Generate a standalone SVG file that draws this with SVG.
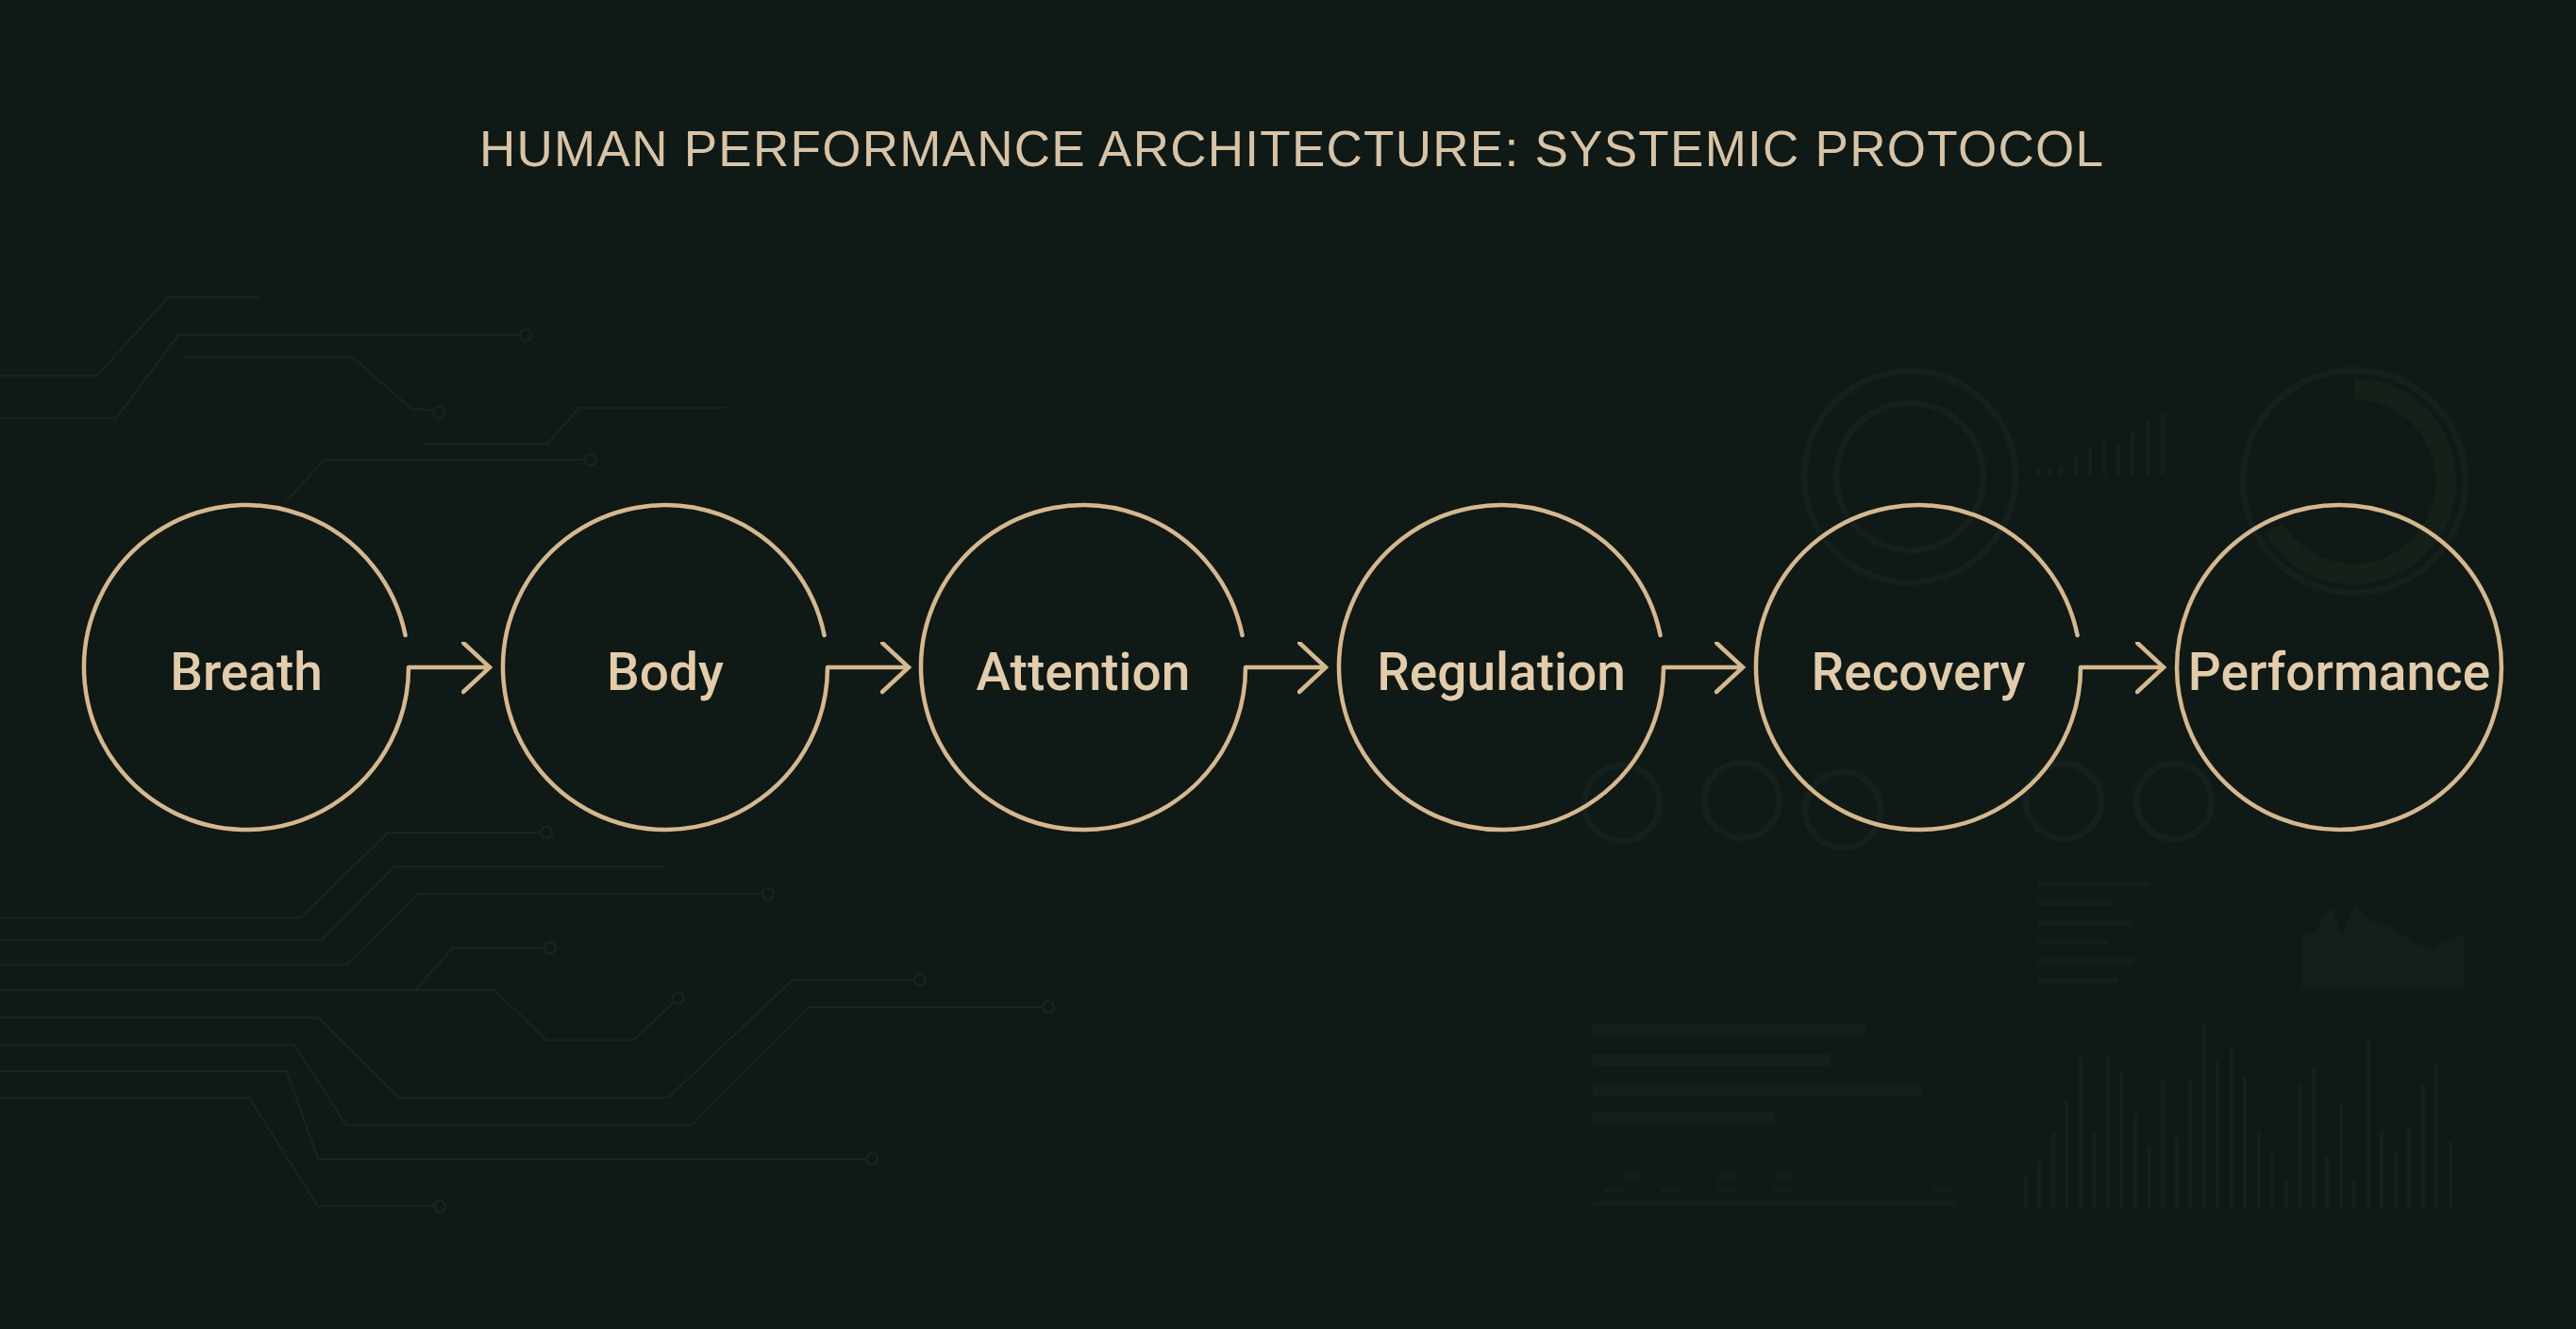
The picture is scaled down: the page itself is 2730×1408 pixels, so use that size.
<svg xmlns="http://www.w3.org/2000/svg" width="2730" height="1408" viewBox="0 0 2730 1408">
<defs>
<style>
.bg{fill:#0f1916}
.trace{fill:none;stroke:#18221e;stroke-width:2.5}
.tnode{fill:none;stroke:#19231f;stroke-width:2.5}
.ring{fill:none;stroke:#151f1b;stroke-width:7}
.dash{fill:#141e1a}
.vbar{stroke:#151f1b;stroke-width:4}
.node{fill:none;stroke:#d6b88c;stroke-width:4.5;stroke-linecap:round}
.label{font-family:Roboto,"Liberation Sans",Arial,sans-serif;font-weight:500;font-size:55px;fill:#e3cca9;text-anchor:middle}
.title{font-family:"Liberation Sans",Arial,sans-serif;font-size:53px;fill:#d8c4a5}
.conn{fill:none;stroke:#d6b88c;stroke-width:4.5}
</style>
<marker id="arrow" markerUnits="userSpaceOnUse" markerWidth="40" markerHeight="60" refX="30" refY="27" orient="auto" viewBox="0 0 40 60">
<path d="M2,1 L30,27 L2,53" fill="none" stroke="#d6b88c" stroke-width="4.5" stroke-linecap="round" stroke-linejoin="miter"/>
</marker>
</defs>
<rect class="bg" x="0" y="0" width="2730" height="1408"/>

<g id="background-left">
<path class="trace" d="M0,398 L103,398 L178,315 L276,315"/>
<path class="trace" d="M0,443 L123,443 L189,355 L551,355"/>
<circle class="tnode" cx="557" cy="355" r="6"/>
<path class="trace" d="M195,378 L373,378 L436,433 L459,435"/>
<circle class="tnode" cx="465" cy="437" r="6"/>
<path class="trace" d="M448,470 L580,470 L614,432 L769,432"/>
<path class="trace" d="M304,530 L344,487 L620,487"/>
<circle class="tnode" cx="626" cy="487" r="6"/>
<path class="trace" d="M0,972 L319,972 L411,882 L573,882"/>
<circle class="tnode" cx="579" cy="882" r="6"/>
<path class="trace" d="M0,996 L341,996 L418,918 L704,918"/>
<path class="trace" d="M0,1022 L367,1022 L444,947 L808,947"/>
<circle class="tnode" cx="814" cy="947" r="6"/>
<path class="trace" d="M0,1049 L524,1049 L579,1102 L671,1102 L715,1061"/>
<circle class="tnode" cx="719" cy="1057" r="6"/>
<path class="trace" d="M440,1049 L480,1004 L577,1004"/>
<circle class="tnode" cx="583" cy="1004" r="6"/>
<path class="trace" d="M0,1078 L337,1078 L422,1163 L708,1163 L840,1038 L969,1038"/>
<circle class="tnode" cx="975" cy="1038" r="6"/>
<path class="trace" d="M0,1107 L312,1107 L367,1192 L733,1192 L858,1067 L1105,1067"/>
<circle class="tnode" cx="1111" cy="1067" r="6"/>
<path class="trace" d="M0,1135 L304,1135 L337,1228 L918,1228"/>
<circle class="tnode" cx="924" cy="1228" r="6"/>
<path class="trace" d="M0,1163 L264,1163 L337,1278 L460,1278"/>
<circle class="tnode" cx="466" cy="1278" r="6"/>
</g>

<g id="background-right">
<circle class="ring" cx="2024" cy="505" r="112" stroke-width="5"/>
<circle class="ring" cx="2024" cy="505" r="78" stroke-width="5"/>
<circle class="ring" cx="2495" cy="510" r="118" stroke-width="5"/>
<path d="M2495,412 A98,98 0 1 1 2410,560" fill="none" stroke="#152019" stroke-width="22"/>
<g class="vbar">
<line x1="2160" y1="503" x2="2160" y2="497"/><line x1="2172" y1="503" x2="2172" y2="497"/><line x1="2184" y1="503" x2="2184" y2="494"/>
<line x1="2200" y1="503" x2="2200" y2="482"/><line x1="2215" y1="503" x2="2215" y2="474"/><line x1="2230" y1="503" x2="2230" y2="466"/>
<line x1="2245" y1="503" x2="2245" y2="470"/><line x1="2260" y1="503" x2="2260" y2="458"/><line x1="2276" y1="503" x2="2276" y2="446"/>
<line x1="2292" y1="503" x2="2292" y2="437"/>
</g>
<g class="ring" stroke-width="5">
<circle cx="1719" cy="851" r="40"/><circle cx="1846" cy="848" r="40"/><circle cx="1953" cy="858" r="40"/>
<circle cx="2187" cy="849" r="40"/><circle cx="2304" cy="849" r="40"/>
</g>
<g class="dash">
<rect x="2160" y="934" width="117" height="6"/><rect x="2160" y="954" width="80" height="6"/><rect x="2160" y="975" width="100" height="6"/>
<rect x="2160" y="995" width="74" height="6"/><rect x="2160" y="1015" width="101" height="6"/><rect x="2160" y="1036" width="84" height="6"/>
<rect x="1688" y="1085" width="289" height="13"/><rect x="1688" y="1117" width="251" height="13"/>
<rect x="1688" y="1148" width="348" height="13"/><rect x="1688" y="1178" width="193" height="13"/>
<path d="M2439,1047 L2439,995 L2455,985 L2470,960 L2482,990 L2496,958 L2512,975 L2528,980 L2545,990 L2560,1000 L2575,1005 L2590,998 L2611,990 L2611,1047 Z"/>
<rect x="1688" y="1272" width="385" height="6"/><rect x="1700" y="1258" width="20" height="6"/><rect x="1760" y="1258" width="20" height="6"/>
<rect x="1820" y="1258" width="20" height="6"/><rect x="1880" y="1258" width="20" height="6"/><rect x="2050" y="1258" width="20" height="6"/>
<rect x="1720" y="1243" width="20" height="6"/><rect x="1820" y="1243" width="20" height="6"/><rect x="1880" y="1243" width="20" height="6"/>
</g>
<g class="vbar">
<line x1="2147" y1="1280" x2="2147" y2="1245"/><line x1="2161" y1="1280" x2="2161" y2="1230"/><line x1="2176" y1="1280" x2="2176" y2="1200"/>
<line x1="2190" y1="1280" x2="2190" y2="1165"/><line x1="2205" y1="1280" x2="2205" y2="1120"/><line x1="2219" y1="1280" x2="2219" y2="1200"/>
<line x1="2234" y1="1280" x2="2234" y2="1118"/><line x1="2248" y1="1280" x2="2248" y2="1135"/><line x1="2263" y1="1280" x2="2263" y2="1180"/>
<line x1="2278" y1="1280" x2="2278" y2="1215"/><line x1="2292" y1="1280" x2="2292" y2="1145"/><line x1="2307" y1="1280" x2="2307" y2="1205"/>
<line x1="2321" y1="1280" x2="2321" y2="1145"/><line x1="2336" y1="1280" x2="2336" y2="1085"/><line x1="2350" y1="1280" x2="2350" y2="1125"/>
<line x1="2365" y1="1280" x2="2365" y2="1110"/><line x1="2379" y1="1280" x2="2379" y2="1140"/><line x1="2394" y1="1280" x2="2394" y2="1200"/>
<line x1="2408" y1="1280" x2="2408" y2="1225"/><line x1="2423" y1="1280" x2="2423" y2="1252"/><line x1="2437" y1="1280" x2="2437" y2="1150"/>
<line x1="2452" y1="1280" x2="2452" y2="1130"/><line x1="2466" y1="1280" x2="2466" y2="1225"/><line x1="2481" y1="1280" x2="2481" y2="1170"/>
<line x1="2495" y1="1280" x2="2495" y2="1250"/><line x1="2510" y1="1280" x2="2510" y2="1100"/><line x1="2524" y1="1280" x2="2524" y2="1198"/>
<line x1="2539" y1="1280" x2="2539" y2="1220"/><line x1="2553" y1="1280" x2="2553" y2="1195"/><line x1="2568" y1="1280" x2="2568" y2="1150"/>
<line x1="2582" y1="1280" x2="2582" y2="1128"/><line x1="2597" y1="1280" x2="2597" y2="1210"/>
</g>
</g>

<text class="title" x="508" y="176" textLength="1721" lengthAdjust="spacing">HUMAN PERFORMANCE ARCHITECTURE: SYSTEMIC PROTOCOL</text>

<g id="connectors">
<line class="conn" x1="433" y1="707" x2="519" y2="707" marker-end="url(#arrow)"/>
<line class="conn" x1="877" y1="707" x2="963" y2="707" marker-end="url(#arrow)"/>
<line class="conn" x1="1320" y1="707" x2="1405" y2="707" marker-end="url(#arrow)"/>
<line class="conn" x1="1763" y1="707" x2="1847" y2="707" marker-end="url(#arrow)"/>
<line class="conn" x1="2205" y1="707" x2="2293" y2="707" marker-end="url(#arrow)"/>
</g>

<g id="node-breath">
<path class="node" d="M433,707 A172,172 0 1 1 429.6,673"/>
<text class="label" x="261" y="731">Breath</text>
</g>
<g id="node-body">
<path class="node" d="M877,707 A172,172 0 1 1 873.6,673"/>
<text class="label" x="705" y="731">Body</text>
</g>
<g id="node-attention">
<path class="node" d="M1320,707 A172,172 0 1 1 1316.6,673"/>
<text class="label" x="1148" y="731">Attention</text>
</g>
<g id="node-regulation">
<path class="node" d="M1763,707 A172,172 0 1 1 1759.6,673"/>
<text class="label" x="1591" y="731">Regulation</text>
</g>
<g id="node-recovery">
<path class="node" d="M2205,707 A172,172 0 1 1 2201.6,673"/>
<text class="label" x="2033" y="731">Recovery</text>
</g>
<g id="node-performance">
<circle class="node" cx="2479" cy="707" r="172"/>
<text class="label" x="2479" y="731">Performance</text>
</g>
</svg>
